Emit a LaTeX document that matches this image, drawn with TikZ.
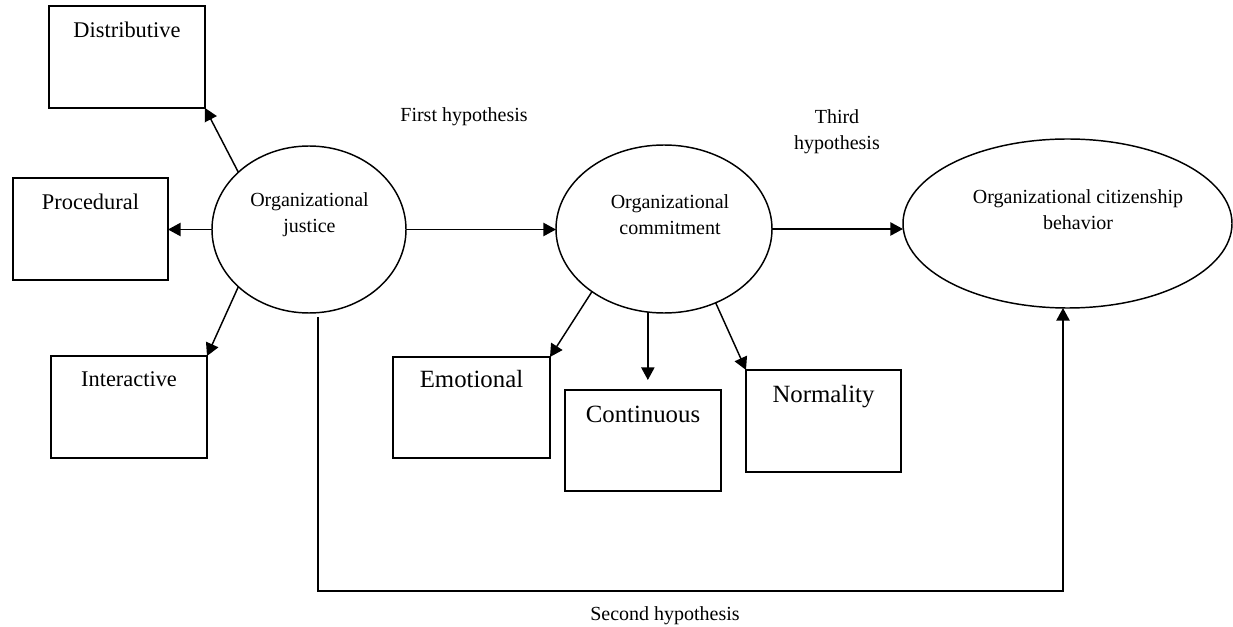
\documentclass[tikz,border=0pt]{standalone}
\usepackage{fontspec}
\setmainfont{Liberation Serif}
\usetikzlibrary{arrows.meta,shapes.geometric}
\begin{document}
\begin{tikzpicture}[x=0.75pt,y=-0.75pt,
  line width=1.1pt,
  arr/.style={-{Triangle[length=9.5pt,width=10pt]}},
  bx/.style={draw, rectangle, inner sep=0pt, outer sep=0pt, anchor=north},
  bigA/.style={font=\fontsize{16.8pt}{20pt}\selectfont},
  bigB/.style={font=\fontsize{18.6pt}{22pt}\selectfont},
  ell/.style={draw, ellipse, inner sep=0pt, outer sep=0pt},
  small/.style={font=\fontsize{15pt}{19.5pt}\selectfont, align=center, inner sep=0pt},
]
\useasboundingbox (0,0) rectangle (1233,627);

% boxes
\node[bx,bigA,minimum width=117pt,text height=24pt,text depth=52.5pt] (dist) at (127,6) {Distributive};
\node[bx,bigA,minimum width=116.25pt,text height=24pt,text depth=52.5pt] (proc) at (90.5,178) {Procedural};
\node[bx,bigA,minimum width=117pt,text height=23.25pt,text depth=53.25pt] (inter) at (129,356) {Interactive};
\node[bx,bigB,minimum width=117.75pt,text height=23.25pt,text depth=52.5pt] (emo) at (471.5,357) {Emotional};
\node[bx,bigB,minimum width=117pt,text height=24.75pt,text depth=51pt] (cont) at (643,390) {Continuous};
\node[bx,bigB,minimum width=116.25pt,text height=24.75pt,text depth=51.75pt] (norm) at (823.5,370) {Normality};

% ellipses
\node[ell,minimum width=145.5pt,minimum height=125.25pt] (oj) at (309,229.5) {};
\node[ell,minimum width=162pt,minimum height=126pt] (oc) at (664,229) {};
\node[ell,minimum width=246.75pt,minimum height=126.75pt] (ocb) at (1067.5,223.5) {};

% texts
\node[small] (ojt) at (309.5,214.5) {Organizational\\justice};
\node[small] (oct) at (670,214.7) {Organizational\\commitment};
\node[small] (ocbt) at (1078,210) {Organizational citizenship\\behavior};
\node[small,anchor=base] (h1) at (464,122) {First hypothesis};
\node[small] (h3) at (837,131.4) {Third\\hypothesis};
\node[small,anchor=base] (h2) at (665,620) {Second hypothesis};

% connectors
\draw[arr] (oj.141) -- (dist.south east);
\draw[arr] (oj.west) -- (oj.west -| proc.east);
\draw[arr] (oj.219) -- (inter.north east);
\draw[arr] (oj.east) -- (oj.east -| oc.west);
\draw[arr] (oc.east) -- (oc.east -| ocb.west);
\draw[arr] (oc.221) -- (emo.north east);
\draw[arr, shorten >=7.5pt] (oc.259) -- (oc.259 |- cont.north);
\draw[arr] (oc.305) -- (norm.north west);
\coordinate (js) at ([xshift=6.75pt,yshift=-3pt]oj.south);
\coordinate (lowR) at (1063,591);
\draw[arr] (js) |- (lowR) -- (lowR |- ocb.south);
\end{tikzpicture}
\end{document}
